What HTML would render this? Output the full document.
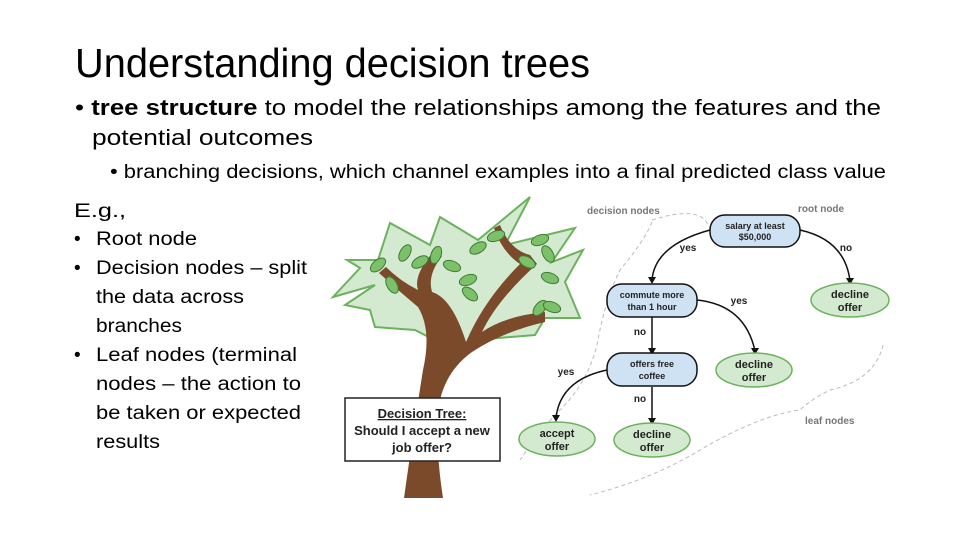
<!DOCTYPE html>
<html><head><meta charset="utf-8"><style>
html,body{margin:0;padding:0;background:#fff;}
svg{display:block;}
text{font-family:"Liberation Sans",sans-serif;}
</style></head><body>
<svg width="960" height="540" viewBox="0 0 960 540" xmlns="http://www.w3.org/2000/svg">
<text x="75" y="77" font-size="41" textLength="515" lengthAdjust="spacingAndGlyphs" fill="#000">Understanding decision trees</text>
<text x="75" y="115" font-size="22" textLength="806" lengthAdjust="spacingAndGlyphs">• <tspan font-weight="bold">tree structure</tspan> to model the relationships among the features and the</text>
<text x="92" y="145" font-size="22" textLength="221" lengthAdjust="spacingAndGlyphs">potential outcomes</text>
<text x="110" y="178" font-size="19" textLength="776" lengthAdjust="spacingAndGlyphs">• branching decisions, which channel examples into a final predicted class value</text>
<g font-size="19">
<text x="74" y="217" textLength="52" lengthAdjust="spacingAndGlyphs">E.g.,</text>
<text x="74" y="245">•</text><text x="96" y="245" textLength="101" lengthAdjust="spacingAndGlyphs">Root node</text>
<text x="74" y="274">•</text><text x="96" y="274" textLength="211" lengthAdjust="spacingAndGlyphs">Decision nodes – split</text>
<text x="96" y="303" textLength="148" lengthAdjust="spacingAndGlyphs">the data across</text>
<text x="96" y="332" textLength="86" lengthAdjust="spacingAndGlyphs">branches</text>
<text x="74" y="361">•</text><text x="96" y="361" textLength="201" lengthAdjust="spacingAndGlyphs">Leaf nodes (terminal</text>
<text x="96" y="390" textLength="205" lengthAdjust="spacingAndGlyphs">nodes – the action to</text>
<text x="96" y="419" textLength="205" lengthAdjust="spacingAndGlyphs">be taken or expected</text>
<text x="96" y="448" textLength="64" lengthAdjust="spacingAndGlyphs">results</text>
</g>
<!-- tree -->
<polygon points="530,197 505,245 575,228 552,262 583,250 565,282 580,318 545,318 535,335 475,340 450,348 415,330 375,327 370,310 345,305 375,285 333,297 360,268 347,260 378,260 390,223 430,245 440,217 478,240" fill="#d4ead0" stroke="#6cb25e" stroke-width="2"/>
<path d="M404,498 L443,498 Q434,440 440,400 Q447,370 472,352 Q502,332 545,322 L545,312 Q505,316 482,332 Q497,300 537,264 L530,255 Q510,250 500,225 L494,228 Q502,252 520,264 Q484,300 466,342 Q452,298 432,292 Q427,275 442,256 L434,251 Q413,275 418,290 Q400,281 386,267 L379,273 Q400,292 418,307 Q432,330 423,370 Q415,420 404,498 Z" fill="#7b4a2a"/>
<g fill="#7dc06a" stroke="#3f7a35" stroke-width="1">
<ellipse cx="378" cy="265" rx="9" ry="5" transform="rotate(-40 378 265)"/>
<ellipse cx="392" cy="285" rx="9" ry="5" transform="rotate(60 392 285)"/>
<ellipse cx="405" cy="253" rx="9" ry="5" transform="rotate(-60 405 253)"/>
<ellipse cx="420" cy="262" rx="9" ry="5" transform="rotate(-30 420 262)"/>
<ellipse cx="436" cy="255" rx="9" ry="5" transform="rotate(-70 436 255)"/>
<ellipse cx="452" cy="266" rx="9" ry="5" transform="rotate(20 452 266)"/>
<ellipse cx="468" cy="280" rx="9" ry="5" transform="rotate(-20 468 280)"/>
<ellipse cx="470" cy="294" rx="9" ry="5" transform="rotate(40 470 294)"/>
<ellipse cx="478" cy="248" rx="9" ry="5" transform="rotate(-30 478 248)"/>
<ellipse cx="496" cy="236" rx="9" ry="5" transform="rotate(-20 496 236)"/>
<ellipse cx="540" cy="240" rx="9" ry="5" transform="rotate(-20 540 240)"/>
<ellipse cx="548" cy="254" rx="9" ry="5" transform="rotate(60 548 254)"/>
<ellipse cx="527" cy="262" rx="9" ry="5" transform="rotate(30 527 262)"/>
<ellipse cx="550" cy="278" rx="9" ry="5" transform="rotate(20 550 278)"/>
<ellipse cx="540" cy="308" rx="9" ry="5" transform="rotate(-50 540 308)"/>
<ellipse cx="552" cy="307" rx="9" ry="5" transform="rotate(20 552 307)"/>
</g>
<rect x="345" y="398" width="155" height="63" fill="#fff" stroke="#222" stroke-width="1.5"/>
<g font-weight="bold" font-size="13" text-anchor="middle" fill="#222">
<text x="422" y="418" text-decoration="underline">Decision Tree:</text>
<text x="422" y="435">Should I accept a new</text>
<text x="422" y="452">job offer?</text>
</g>
<g fill="none" stroke="#bbb" stroke-width="1" stroke-dasharray="4,3">
<path d="M652,220 Q700,205 708,225 M652,222 Q645,240 620,270 Q605,300 598,340 Q590,380 560,410 Q540,430 520,460"/>
<path d="M883,345 Q875,380 830,390 Q810,400 800,410 Q760,415 700,450 Q650,480 590,495"/>
</g>
<g fill="none" stroke="#111" stroke-width="1.5">
<path d="M710,230 Q655,245 652,280"/>
<path d="M800,230 Q845,240 850,281"/>
<path d="M697,300 Q745,305 755,351"/>
<path d="M652,317 L652,351"/>
<path d="M607,370 Q560,380 556,418"/>
<path d="M652,387 L652,421"/>
</g>
<g fill="#111">
<polygon points="648,277 656,277 652,284"/>
<polygon points="846,278 854,278 850,285"/>
<polygon points="751,348 759,348 755,355"/>
<polygon points="648,348 656,348 652,355"/>
<polygon points="552,415 560,415 556,422"/>
<polygon points="648,418 656,418 652,425"/>
</g>
<g stroke="#111" stroke-width="1.5" fill="#cfe2f3">
<rect x="710" y="215" width="90" height="32" rx="15"/>
<rect x="607" y="284" width="90" height="33" rx="15"/>
<rect x="607" y="353" width="90" height="33" rx="15"/>
</g>
<g stroke="#6cb25e" stroke-width="1.5" fill="#d4ead0">
<ellipse cx="850" cy="300" rx="39" ry="17"/>
<ellipse cx="754" cy="370" rx="38" ry="17"/>
<ellipse cx="652" cy="440" rx="38" ry="17"/>
<ellipse cx="557" cy="439" rx="38" ry="17"/>
</g>
<g font-weight="bold" text-anchor="middle" fill="#222">
<text x="755" y="229" font-size="9">salary at least</text><text x="755" y="240" font-size="9">$50,000</text>
<text x="652" y="298" font-size="9">commute more</text><text x="652" y="310" font-size="9">than 1 hour</text>
<text x="652" y="367" font-size="9">offers free</text><text x="652" y="379" font-size="9">coffee</text>
<g font-size="11">
<text x="850" y="298">decline</text><text x="850" y="311">offer</text>
<text x="754" y="368">decline</text><text x="754" y="381">offer</text>
<text x="652" y="438">decline</text><text x="652" y="451">offer</text>
<text x="557" y="437">accept</text><text x="557" y="450">offer</text>
</g>
<g font-size="10">
<text x="688" y="251">yes</text><text x="846" y="251">no</text>
<text x="739" y="304">yes</text><text x="640" y="335">no</text>
<text x="566" y="375">yes</text><text x="640" y="402">no</text>
</g>
</g>
<g font-size="10" fill="#777" font-weight="bold">
<text x="587" y="214">decision nodes</text>
<text x="798" y="212">root node</text>
<text x="805" y="424">leaf nodes</text>
</g>
</svg>
</body></html>
